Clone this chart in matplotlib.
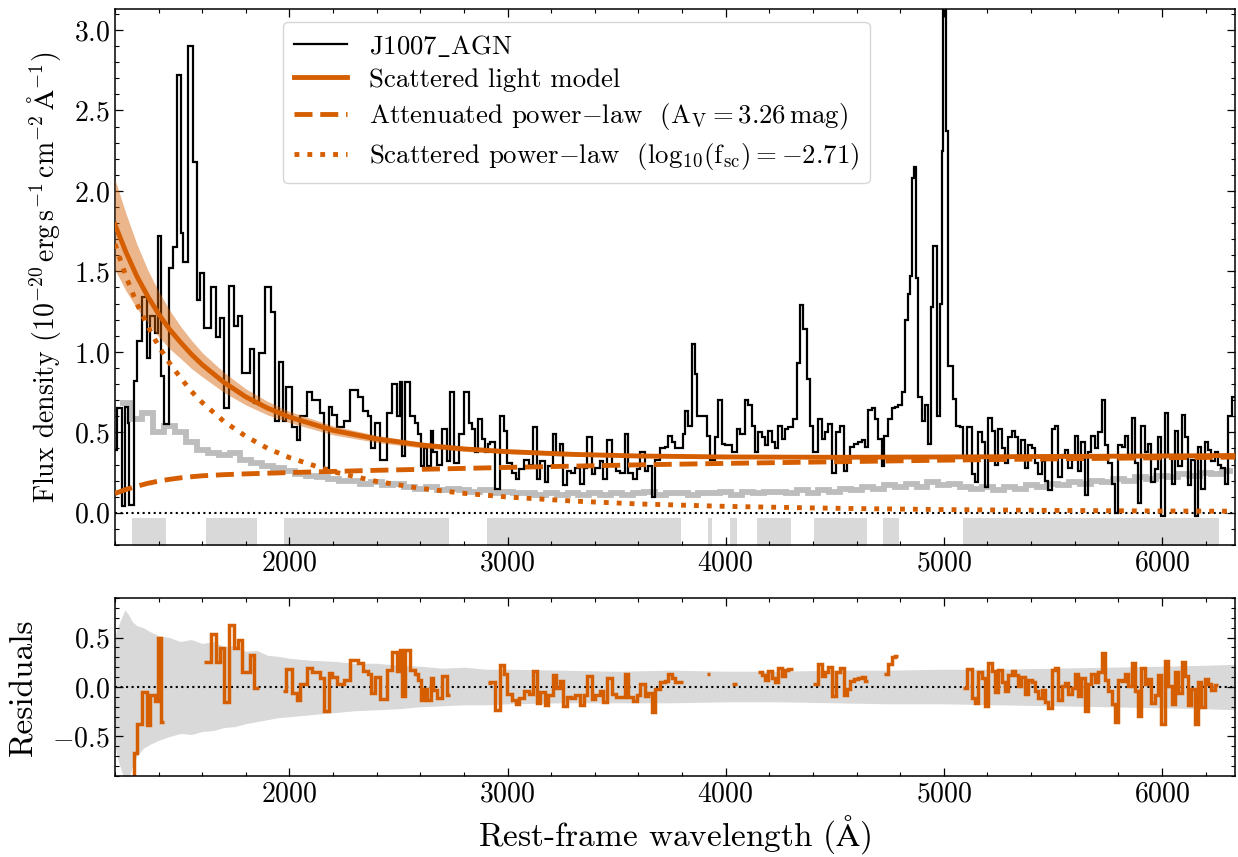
import numpy as np
import matplotlib
matplotlib.use("Agg")
import matplotlib.pyplot as plt
from matplotlib.lines import Line2D

plt.rcParams.update({
    "font.family": "serif",
    "font.serif": ["cmr10"],
    "mathtext.fontset": "cm",
    "axes.formatter.use_mathtext": True,
    "axes.unicode_minus": True,
    "xtick.direction": "in",
    "ytick.direction": "in",
    "xtick.top": True,
    "ytick.right": True,
    "xtick.major.size": 5.5,
    "ytick.major.size": 5.5,
    "xtick.minor.size": 3,
    "ytick.minor.size": 3,
    "xtick.major.width": 0.9,
    "ytick.major.width": 0.9,
    "xtick.minor.width": 0.8,
    "ytick.minor.width": 0.8,
    "axes.linewidth": 1.1,
    "xtick.labelsize": 20,
    "ytick.labelsize": 20,
})

ORANGE = "#D55E00"

# observed spectrum: bin edges (rest-frame Angstrom) and flux per bin
spec_edges = [
    1200, 1210, 1230, 1245, 1258, 1266, 1287, 1302, 1322, 1345, 1360, 1383, 1395, 1412,
    1425, 1448, 1468, 1484, 1502, 1514, 1536, 1557, 1576, 1591, 1606, 1640, 1664, 1682,
    1702, 1722, 1747, 1762, 1782, 1817, 1838, 1858, 1889, 1915, 1934, 1950, 1970, 1985,
    2011, 2034, 2049, 2080, 2103, 2138, 2156, 2179, 2194, 2217, 2248, 2278, 2312, 2339,
    2360, 2374, 2393, 2416, 2446, 2469, 2492, 2507, 2515, 2530, 2553, 2576, 2591, 2602,
    2617, 2630, 2648, 2660, 2675, 2698, 2721, 2736, 2752, 2775, 2798, 2821, 2836, 2851,
    2862, 2882, 2897, 2908, 2920, 2943, 2966, 2984, 2999, 3019, 3039, 3054, 3076, 3096,
    3115, 3134, 3149, 3172, 3187, 3210, 3222, 3238, 3256, 3271, 3289, 3309, 3332, 3348,
    3363, 3386, 3401, 3424, 3439, 3454, 3477, 3497, 3516, 3538, 3554, 3577, 3595, 3607,
    3630, 3645, 3661, 3676, 3699, 3722, 3737, 3752, 3768, 3783, 3803, 3813, 3829, 3844,
    3859, 3870, 3913, 3928, 3951, 3966, 3982, 3997, 4027, 4050, 4066, 4088, 4104, 4119,
    4134, 4150, 4165, 4180, 4195, 4211, 4226, 4241, 4257, 4272, 4287, 4310, 4325, 4341,
    4356, 4371, 4386, 4402, 4425, 4440, 4455, 4470, 4486, 4506, 4524, 4542, 4554, 4570,
    4588, 4608, 4623, 4638, 4654, 4669, 4684, 4700, 4715, 4727, 4745, 4761, 4776, 4791,
    4806, 4822, 4837, 4845, 4852, 4863, 4872, 4883, 4898, 4913, 4929, 4939, 4952, 4967,
    4982, 4990, 4998, 5010, 5020, 5043, 5058, 5074, 5089, 5104, 5127, 5143, 5158, 5173,
    5188, 5204, 5219, 5234, 5250, 5265, 5280, 5295, 5311, 5326, 5341, 5356, 5372, 5387,
    5402, 5418, 5433, 5448, 5463, 5479, 5494, 5509, 5524, 5540, 5555, 5570, 5586, 5601,
    5616, 5631, 5647, 5662, 5677, 5693, 5708, 5723, 5738, 5754, 5769, 5784, 5799, 5815,
    5830, 5845, 5861, 5876, 5891, 5906, 5922, 5937, 5952, 5968, 5983, 5998, 6013, 6029,
    6044, 6059, 6074, 6090, 6105, 6120, 6135, 6151, 6166, 6181, 6197, 6212, 6227, 6242,
    6258, 6273, 6288, 6304, 6319, 6334,
]
spec_flux = [
    0.39, 0.65, 0.04, 0.66, 0.56, 0.05, 0.82, 1.07, 1.34, 0.96, 1.22, 1.12, 1.72,
    0.85, 0.55, 1.52, 1.65, 2.72, 1.74, 1.56, 2.90, 2.18, 1.32, 1.49, 1.15, 1.40, 1.09,
    1.21, 0.65, 1.41, 1.16, 1.22, 0.87, 1.02, 0.68, 0.99, 1.40, 1.25, 0.57, 0.94, 0.57,
    0.78, 0.53, 0.45, 0.60, 0.75, 0.70, 0.62, 0.28, 0.66, 0.61, 0.53, 0.57, 0.76, 0.72,
    0.63, 0.60, 0.40, 0.56, 0.33, 0.62, 0.80, 0.60, 0.81, 0.35, 0.81, 0.60, 0.56, 0.49,
    0.29, 0.40, 0.29, 0.51, 0.38, 0.30, 0.52, 0.32, 0.75, 0.31, 0.49, 0.75, 0.56, 0.52,
    0.38, 0.58, 0.46, 0.38, 0.43, 0.44, 0.15, 0.60, 0.51, 0.31, 0.25, 0.21, 0.27, 0.33,
    0.30, 0.53, 0.21, 0.32, 0.19, 0.29, 0.49, 0.36, 0.43, 0.17, 0.26, 0.25, 0.28, 0.18,
    0.28, 0.47, 0.24, 0.28, 0.32, 0.21, 0.45, 0.29, 0.26, 0.25, 0.49, 0.25, 0.21, 0.27,
    0.38, 0.26, 0.29, 0.10, 0.33, 0.40, 0.41, 0.48, 0.44, 0.40, 0.40, 0.49, 0.63, 0.54,
    1.05, 0.86, 0.60, 0.48, 0.33, 0.47, 0.70, 0.43, 0.42, 0.38, 0.52, 0.49, 0.70, 0.67,
    0.54, 0.38, 0.50, 0.47, 0.42, 0.51, 0.44, 0.40, 0.54, 0.46, 0.52, 0.53, 0.58, 0.93,
    1.29, 1.14, 0.83, 0.54, 0.38, 0.58, 0.46, 0.50, 0.55, 0.25, 0.50, 0.54, 0.26, 0.33,
    0.41, 0.43, 0.44, 0.45, 0.41, 0.64, 0.65, 0.58, 0.46, 0.29, 0.48, 0.58, 0.65, 0.66,
    0.67, 0.75, 1.20, 1.36, 1.47, 2.08, 2.15, 1.46, 0.72, 0.57, 0.67, 0.43, 1.28, 1.66,
    0.60, 1.30, 2.25, 3.50, 2.37, 0.91, 0.71, 0.54, 0.53, 0.34, 0.53, 0.24, 0.19, 0.50,
    0.44, 0.16, 0.59, 0.51, 0.30, 0.52, 0.40, 0.31, 0.47, 0.51, 0.47, 0.36, 0.45, 0.28,
    0.42, 0.40, 0.31, 0.24, 0.32, 0.20, 0.14, 0.52, 0.54, 0.22, 0.36, 0.39, 0.28, 0.34,
    0.48, 0.26, 0.44, 0.11, 0.38, 0.48, 0.40, 0.50, 0.70, 0.42, 0.31, 0.18, 0.00, 0.42,
    0.41, 0.48, 0.36, 0.59, 0.31, 0.06, 0.54, 0.38, 0.43, 0.19, 0.27, 0.47, -0.02, 0.62,
    0.36, 0.18, 0.51, 0.29, 0.61, 0.47, 0.17, 0.33, -0.02, 0.41, 0.15, 0.44, 0.39, 0.32,
    0.38, 0.30, 0.28, 0.18, 0.60, 0.72,
]

# flux uncertainty (grey), 50 A bins starting at 1225 A
err_start, err_step = 1225, 50
err_flux = [
    0.68, 0.58, 0.62, 0.50, 0.54, 0.50, 0.44, 0.39, 0.37, 0.36, 0.37, 0.33, 0.31, 0.29,
    0.28, 0.26, 0.24, 0.23, 0.22, 0.21, 0.20, 0.20, 0.18, 0.19, 0.17, 0.18, 0.16, 0.15,
    0.16, 0.14, 0.15, 0.14, 0.13, 0.14, 0.12, 0.13, 0.12, 0.12, 0.11, 0.12, 0.11, 0.12,
    0.11, 0.12, 0.11, 0.12, 0.11, 0.12, 0.13, 0.11, 0.12, 0.12, 0.11, 0.12, 0.12, 0.13,
    0.11, 0.13, 0.12, 0.13, 0.13, 0.12, 0.14, 0.12, 0.14, 0.13, 0.15, 0.14, 0.16, 0.15,
    0.17, 0.16, 0.18, 0.16, 0.19, 0.17, 0.18, 0.16, 0.15, 0.16, 0.14, 0.16, 0.15, 0.17,
    0.16, 0.18, 0.17, 0.19, 0.18, 0.20, 0.19, 0.21, 0.20, 0.22, 0.21, 0.23, 0.22, 0.24,
    0.23, 0.25, 0.24, 0.26,
]

# model curves
model_wave = [1200, 1250, 1300, 1350, 1400, 1450, 1500, 1550, 1600, 1700, 1800, 1900,
              2000, 2200, 2400, 2600, 2800, 3000, 3300, 3600, 4000, 4500, 5000, 5500,
              6000, 6340]
model_total = [1.79, 1.62, 1.47, 1.345, 1.235, 1.14, 1.06, 0.985, 0.92, 0.81, 0.72,
               0.65, 0.595, 0.512, 0.459, 0.422, 0.397, 0.38, 0.363, 0.353, 0.347, 0.345,
               0.347, 0.35, 0.353, 0.356]
model_total_err = [0.28, 0.24, 0.20, 0.165, 0.14, 0.12, 0.10, 0.088, 0.075, 0.062, 0.05,
                   0.042, 0.035, 0.028, 0.022, 0.018, 0.015, 0.012, 0.011, 0.01, 0.009,
                   0.008, 0.008, 0.008, 0.008, 0.008]
model_atten = [0.12, 0.145, 0.165, 0.183, 0.197, 0.208, 0.217, 0.224, 0.23, 0.237, 0.242,
               0.246, 0.25, 0.257, 0.264, 0.27, 0.276, 0.282, 0.29, 0.298, 0.307, 0.317,
               0.327, 0.335, 0.342, 0.346]
model_scat = [1.67, 1.47, 1.30, 1.16, 1.035, 0.93, 0.84, 0.755, 0.685, 0.567, 0.475,
              0.40, 0.343, 0.255, 0.195, 0.152, 0.121, 0.098, 0.073, 0.055, 0.040, 0.028,
              0.020, 0.015, 0.011, 0.010]

# wavelength windows used in the fit (grey bars / residuals)
fit_windows = [(1276, 1436), (1615, 1849), (1977, 2733), (2907, 3796), (3920, 3939),
               (4021, 4053), (4145, 4300), (4406, 4649), (4722, 4796), (5089, 6262)]

# residual uncertainty band (upper and lower edges)
band_wave = [1200, 1215, 1230, 1245, 1260, 1280, 1300, 1330, 1360, 1400, 1450, 1500,
             1550, 1600, 1650, 1700, 1750, 1800, 1850, 1900, 1950, 2000, 2100, 2200,
             2300, 2400, 2500, 2600, 2700, 2800, 2900, 3000, 3250, 3500, 3750, 4000,
             4250, 4500, 4750, 5000, 5250, 5500, 5750, 6000, 6200, 6340]
band_upper = [0.52, 0.62, 0.70, 0.78, 0.74, 0.66, 0.62, 0.60, 0.56, 0.52, 0.50, 0.46,
              0.48, 0.44, 0.46, 0.41, 0.42, 0.36, 0.37, 0.32, 0.31, 0.29, 0.27, 0.26,
              0.24, 0.24, 0.22, 0.21, 0.19, 0.20, 0.18, 0.18, 0.17, 0.16, 0.17, 0.16,
              0.16, 0.17, 0.17, 0.18, 0.18, 0.19, 0.20, 0.21, 0.22, 0.23]
band_lower = [-0.60, -0.75, -0.85, -0.95, -0.95, -0.80, -0.70, -0.62, -0.58, -0.54,
              -0.50, -0.47, -0.48, -0.45, -0.44, -0.41, -0.40, -0.37, -0.35, -0.33,
              -0.31, -0.30, -0.28, -0.26, -0.24, -0.23, -0.22, -0.20, -0.19, -0.18,
              -0.18, -0.17, -0.16, -0.16, -0.16, -0.15, -0.15, -0.16, -0.17, -0.17,
              -0.18, -0.19, -0.20, -0.21, -0.22, -0.23]

edges = np.array(spec_edges, dtype=float)
flux = np.array(spec_flux)
err_edges = err_start + err_step * np.arange(len(err_flux) + 1)
mw = np.array(model_wave)
mt = np.array(model_total)
me = np.array(model_total_err)

fig = plt.figure(figsize=(12.38, 8.57), dpi=100)
W, H = 1238.0, 857.0
ax1 = fig.add_axes([115 / W, 1 - 545 / H, 1120 / W, 536 / H])
ax2 = fig.add_axes([115 / W, 1 - 776 / H, 1120 / W, 178 / H])

# --- top panel ---
for lo, hi in fit_windows:
    ax1.fill_between([lo, hi], -0.3, -0.03, color="#D9D9D9", lw=0, zorder=0)
ax1.axhline(0, color="k", ls=":", lw=1.5, zorder=1)
ax1.stairs(err_flux, err_edges, color="#BDBDBD", lw=4.2, baseline=None, zorder=1)
ax1.stairs(flux, edges, color="k", lw=1.6, baseline=None, zorder=2)
ax1.fill_between(mw, mt - me, mt + me, color=ORANGE, alpha=0.45, lw=0, zorder=3)
ax1.plot(mw, mt, color=ORANGE, lw=3.5, zorder=4)
ax1.plot(mw, model_atten, color=ORANGE, lw=3.5, ls="--", zorder=4)
ax1.plot(mw, model_scat, color=ORANGE, lw=3.5, ls=":", zorder=4)

ax1.set_xlim(1200, 6335)
ax1.set_ylim(-0.2, 3.13)
ax1.set_xticks([2000, 3000, 4000, 5000, 6000])
ax1.set_xticks(np.arange(1200, 6335, 200), minor=True)
ax1.set_yticks(np.arange(0, 3.01, 0.5))
ax1.set_yticks(np.arange(-0.2, 3.13, 0.1), minor=True)
ax1.set_ylabel(r"Flux density $(10^{-20}\,\mathrm{erg\,s^{-1}\,cm^{-2}\,\AA^{-1}})$",
               fontsize=20, labelpad=8)

handles = [
    Line2D([], [], color="k", lw=1.6),
    Line2D([], [], color=ORANGE, lw=3.5),
    Line2D([], [], color=ORANGE, lw=3.5, ls="--"),
    Line2D([], [], color=ORANGE, lw=3.5, ls=":"),
]
labels = [
    r"J1007$\_$AGN",
    "Scattered light model",
    r"Attenuated power$-$law  $(\mathrm{A_V} = 3.26\,\mathrm{mag})$",
    r"Scattered power$-$law  $(\mathrm{log}_{10}(\mathrm{f_{sc}}) = -2.71)$",
]
ax1.legend(handles, labels, loc="upper left", bbox_to_anchor=(0.15, 0.976),
           borderaxespad=0, fontsize=19.3, frameon=True, fancybox=True,
           edgecolor="#CCCCCC", handlelength=2.0, borderpad=0.4, labelspacing=0.35,
           handletextpad=0.8)

# --- residual panel ---
centers = 0.5 * (edges[:-1] + edges[1:])
resid = flux - np.interp(centers, mw, mt)
ax2.fill_between(band_wave, band_lower, band_upper, color="#D9D9D9", lw=0, zorder=0)
ax2.axhline(0, color="k", ls=":", lw=1.5, zorder=1)
for lo, hi in fit_windows:
    idx = np.where((centers >= lo) & (centers <= hi))[0]
    if len(idx) == 0:
        continue
    i0, i1 = idx[0], idx[-1]
    ax2.stairs(resid[i0:i1 + 1], edges[i0:i1 + 2], color=ORANGE, lw=2.5,
               baseline=None, zorder=2)

ax2.set_xlim(1200, 6335)
ax2.set_ylim(-0.9, 0.9)
ax2.set_xticks([2000, 3000, 4000, 5000, 6000])
ax2.set_xticks(np.arange(1200, 6335, 200), minor=True)
ax2.set_yticks([-0.5, 0.0, 0.5])
ax2.set_yticks(np.arange(-0.9, 0.91, 0.1), minor=True)
ax2.set_ylabel("Residuals", fontsize=24, labelpad=10)
ax2.set_xlabel(r"Rest-frame wavelength $(\mathrm{\AA})$", fontsize=24)

fig.savefig("out.png", dpi=100)
